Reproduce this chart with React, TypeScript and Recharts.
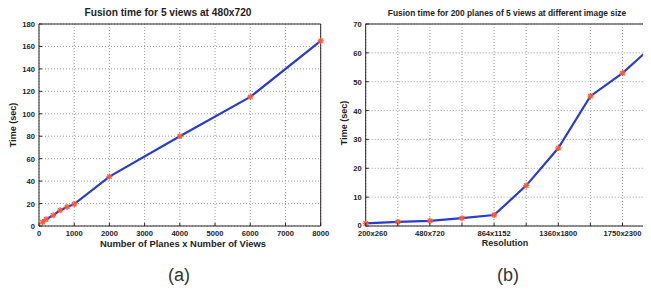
import React from 'react';
import { ComposedChart, Line, XAxis, YAxis, CartesianGrid, ReferenceLine } from 'recharts';

// (a) fusion time vs number of planes x views, 480x720
const planeCounts = [100, 200, 400, 600, 800, 1000, 2000, 4000, 6000, 8000];
const planeTimes = [3.5, 6, 9.5, 14, 17, 19.5, 44, 80, 115, 165];
const planeTicks = [0, 1000, 2000, 3000, 4000, 5000, 6000, 7000, 8000];
const planeTimeTicks = [0, 20, 40, 60, 80, 100, 120, 140, 160, 180];

// (b) fusion time vs image resolution, 200 planes of 5 views
const resolutionLabels = ['200x260', '', '480x720', '', '864x1152', '', '1360x1800', '', '1750x2300', ''];
const resolutionTimes = [0.9, 1.4, 1.8, 2.7, 3.8, 14, 27, 45, 53, 63];
const resolutionTimeTicks = [0, 10, 20, 30, 40, 50, 60, 70];

const FONT = '"Liberation Sans", Arial, sans-serif';
const TEXT = '#1e1e1e';
const AXIS = '#2a2626';
const LINE = '#2a3ccb';
const MARK = '#ff5a36';

const leftData = planeCounts.map((n, i) => ({ n, t: planeTimes[i] }));
const rightData = resolutionTimes.map((t, i) => ({ i, t }));

function Star(props: any) {
  const { cx, cy } = props;
  if (cx == null || cy == null) return null;
  const r = 3;
  const d = 2.2;
  return (
    <g stroke={MARK} strokeWidth={1.3}>
      <line x1={cx - r} y1={cy} x2={cx + r} y2={cy} />
      <line x1={cx} y1={cy - r} x2={cx} y2={cy + r} />
      <line x1={cx - d} y1={cy - d} x2={cx + d} y2={cy + d} />
      <line x1={cx - d} y1={cy + d} x2={cx + d} y2={cy - d} />
    </g>
  );
}

// matlab style: tick marks point into the plot
function makeXTick(fmt: (v: number) => string, shiftFirst = 0) {
  return (props: any) => {
    const { x, y, payload, index } = props;
    const tx = index === 0 ? x + shiftFirst : x;
    return (
      <g>
        <line x1={x} y1={y} x2={x} y2={y - 3} stroke={AXIS} />
        <text x={tx} y={y + 9.5} textAnchor="middle" fontSize={7.6} fontWeight="bold" fontFamily={FONT} fill={TEXT}>
          {fmt(payload.value)}
        </text>
      </g>
    );
  };
}

function makeYTick(zeroLift = 0) {
  return (props: any) => {
    const { x, y, payload } = props;
    const ty = payload.value === 0 ? y + 3 - zeroLift : y + 3;
    return (
      <g>
        <line x1={x} y1={y} x2={x + 3} y2={y} stroke={AXIS} />
        <text x={x - 4} y={ty} textAnchor="end" fontSize={7.6} fontWeight="bold" fontFamily={FONT} fill={TEXT}>
          {payload.value}
        </text>
      </g>
    );
  };
}

const abs = (left: number, top: number): React.CSSProperties => ({
  position: 'absolute',
  left,
  top,
  fontFamily: FONT,
  color: TEXT,
  whiteSpace: 'nowrap',
  lineHeight: 1,
});

export default function App() {
  return (
    <div style={{ position: 'relative', margin: -8, width: 651, height: 293, overflow: 'hidden', background: '#fff' }}>
      <div style={{ position: 'absolute', left: 0, top: 0 }}>
        <ComposedChart width={330} height={250} data={leftData} margin={{ top: 24, right: 9.3, bottom: 0, left: 0 }}>
          <CartesianGrid strokeDasharray="1 2" stroke="#9a9a9a" />
          <XAxis
            type="number"
            dataKey="n"
            domain={[0, 8000]}
            ticks={planeTicks}
            interval={0}
            height={24}
            tickSize={0}
            tickMargin={0}
            axisLine={{ stroke: AXIS }}
            tick={makeXTick((v) => String(v))}
          />
          <YAxis
            domain={[0, 180]}
            ticks={planeTimeTicks}
            interval={0}
            width={39}
            tickSize={0}
            tickMargin={0}
            axisLine={{ stroke: AXIS }}
            tick={makeYTick()}
          />
          <ReferenceLine y={180} stroke={AXIS} />
          <ReferenceLine x={8000} stroke={AXIS} />
          <Line dataKey="t" stroke={LINE} strokeWidth={2.2} dot={<Star />} isAnimationActive={false} />
        </ComposedChart>
      </div>
      <div style={{ position: 'absolute', left: 320, top: 0 }}>
        <ComposedChart width={340} height={250} data={rightData} margin={{ top: 24, right: 5.4, bottom: 0, left: 0 }}>
          <CartesianGrid strokeDasharray="1 2" stroke="#9a9a9a" />
          <XAxis
            type="number"
            dataKey="i"
            domain={[0, 9]}
            ticks={rightData.map((d) => d.i)}
            interval={0}
            height={24}
            tickSize={0}
            tickMargin={0}
            axisLine={{ stroke: AXIS }}
            tick={makeXTick((v) => resolutionLabels[v] ?? '', 7)}
          />
          <YAxis
            domain={[0, 70]}
            ticks={resolutionTimeTicks}
            interval={0}
            width={45.7}
            tickSize={0}
            tickMargin={0}
            axisLine={{ stroke: AXIS }}
            tick={makeYTick(1.5)}
          />
          <ReferenceLine y={70} stroke={AXIS} />
          <Line dataKey="t" stroke={LINE} strokeWidth={2.2} dot={<Star />} isAnimationActive={false} />
        </ComposedChart>
      </div>

      <div style={{ ...abs(0, 8), width: 336, textAlign: 'center', fontSize: 10.2, fontWeight: 'bold' }}>
        Fusion time for 5 views at 480x720
      </div>
      <div style={{ ...abs(0, 239), width: 366, textAlign: 'center', fontSize: 9.4, fontWeight: 'bold' }}>
        Number of Planes x Number of Views
      </div>
      <div style={{ ...abs(13, 125), fontSize: 9, fontWeight: 'bold', transform: 'translate(-50%, -50%) rotate(-90deg)' }}>
        Time (sec)
      </div>
      <div style={{ ...abs(0, 266), width: 358, textAlign: 'center', fontSize: 18, color: '#333' }}>(a)</div>

      <div style={{ ...abs(376, 9), width: 262, textAlign: 'center', fontSize: 8.4, fontWeight: 'bold' }}>
        Fusion time for 200 planes of 5 views at different image size
      </div>
      <div style={{ ...abs(455, 239), width: 100, textAlign: 'center', fontSize: 9, fontWeight: 'bold' }}>
        Resolution
      </div>
      <div style={{ ...abs(344, 123), fontSize: 9, fontWeight: 'bold', transform: 'translate(-50%, -50%) rotate(-90deg)' }}>
        Time (sec)
      </div>
      <div style={{ ...abs(458, 266), width: 100, textAlign: 'center', fontSize: 18, color: '#333' }}>(b)</div>
    </div>
  );
}
